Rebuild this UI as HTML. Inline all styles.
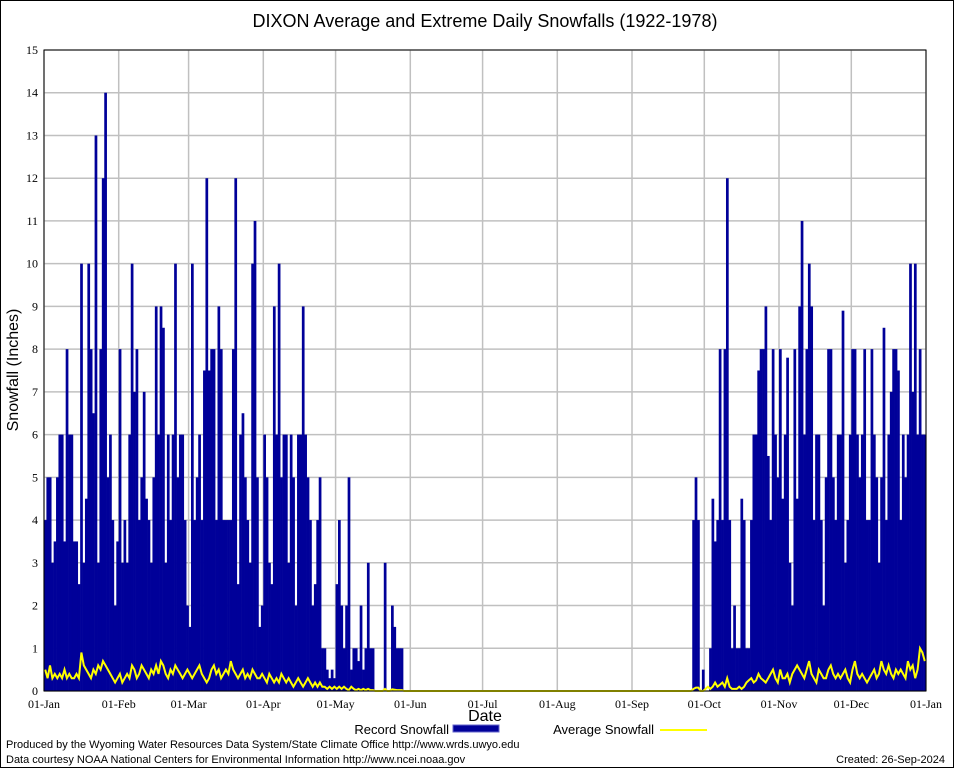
<!DOCTYPE html>
<html><head><meta charset="utf-8"><style>
body{margin:0;background:#fff}
svg{display:block;font-family:"Liberation Sans",sans-serif}
</style></head><body>
<svg id="chart" width="954" height="768" viewBox="0 0 954 768" xmlns="http://www.w3.org/2000/svg">
<rect x="0.5" y="0.5" width="953" height="767" fill="#fff" stroke="#000"/>
<text x="485" y="27" font-size="18" text-anchor="middle">DIXON Average and Extreme Daily Snowfalls (1922-1978)</text>
<g id="grid"></g>
<g id="bars"></g>
<g id="avg"></g>
<rect x="44" y="50" width="882" height="641" fill="none" stroke="#000"/>
<g id="axes" font-family="Liberation Serif, serif" font-size="12"></g>
<text transform="translate(18,370) rotate(-90)" font-size="16" text-anchor="middle">Snowfall (Inches)</text>
<text x="485" y="721" font-size="16" text-anchor="middle">Date</text>
<g>
<text x="449" y="734" font-size="13" text-anchor="end">Record Snowfall</text>
<rect x="453" y="725" width="46" height="7" fill="#000099" stroke="#6666cc"/>
<text x="654" y="734" font-size="13" text-anchor="end">Average Snowfall</text>
<line x1="660" y1="730" x2="707" y2="730" stroke="#ffff00" stroke-width="2"/>
</g>
<text x="6" y="748" font-size="11">Produced by the Wyoming Water Resources Data System/State Climate Office http://www.wrds.uwyo.edu</text>
<text x="6" y="763" font-size="11">Data courtesy NOAA National Centers for Environmental Information http://www.ncei.noaa.gov</text>
<text x="945" y="763" font-size="11" text-anchor="end">Created: 26-Sep-2024</text>
</svg>
<script>
const monthLabels=["01-Jan","01-Feb","01-Mar","01-Apr","01-May","01-Jun","01-Jul","01-Aug","01-Sep","01-Oct","01-Nov","01-Dec","01-Jan"];
const monthStarts=[0,31,60,91,121,152,182,213,244,274,305,335,366];
const yTicks=[0,1,2,3,4,5,6,7,8,9,10,11,12,13,14,15];
const recJan=[4,5,5,3,3.5,5,6,6,3.5,8,6,6,3.5,3.5,2.5,10,3,4.5,10,8,6.5,13,3,8,12,14,5,6,4,2,3.5];
const recFeb=[8,3,4,3,6,10,7,8,4,5,7,4.5,4,3,5,9,6,9,8.5,3,6,4,6,10,5,6,6,4,2];
const recMar=[1.5,10,4,5,6,4,7.5,12,7.5,8,8,4,9,8,4,4,4,4,8,12,2.5,6,6.5,5,4,3,10,11,5,1.5,2];
const recApr=[6,5,3,2.5,9,6,10,5,6,6,3,6,5,2,6,6,9,6,5,4,2,2.5,4,5,1,1,0.5,0.3,0.5,0.3];
const recMay=[2.5,4,2,1,2,5,0.5,1,1,0.7,2,0.5,1,3,1,1,0,0,0,0,3,0,0,2,1.5,1,1,1,0,0,0];
const recJun=new Array(30).fill(0);
const recJul=new Array(31).fill(0);
const recAug=new Array(31).fill(0);
const recSep=[0,0,0,0,0,0,0,0,0,0,0,0,0,0,0,0,0,0,0,0,0,0,0,0,0,4,5,4,0,0.5];
const recOct=[0,0,1,4.5,3.5,4,8,4,8,12,4,1,2,1,1,4.5,4,1,1,4,6,6,7.5,8,8,9,5.5,4,8,6,5];
const recNov=[8,4.5,6,7.8,3,2,8,4.5,9,11,6,8,10,9,4,6,6,4,2,5,8,8,5,4,6,6,8.9,3,4,6];
const recDec=[8,8,6,5,6,8,4,4,8,6,5,3,5,8.5,4,6,7,8,8,7.5,4,6,5,6,10,7,10,6,8,6,6];
const avgJan=[.5,.3,.6,.3,.4,.3,.4,.3,.5,.3,.4,.3,.3,.4,.3,.9,.6,.5,.4,.3,.5,.4,.6,.5,.7,.6,.5,.4,.3,.2,.3];
const avgFeb=[.4,.2,.3,.4,.3,.6,.5,.3,.4,.6,.5,.4,.3,.5,.4,.6,.4,.7,.6,.4,.3,.5,.4,.6,.5,.4,.3,.4,.5];
const avgMar=[.4,.3,.4,.5,.6,.4,.3,.2,.3,.5,.6,.4,.5,.3,.4,.5,.4,.7,.5,.4,.3,.4,.5,.3,.4,.3,.5,.4,.3,.3,.4];
const avgApr=[.3,.2,.4,.3,.2,.3,.2,.4,.3,.2,.3,.2,.1,.2,.3,.2,.1,.2,.3,.2,.1,.2,.1,.2,.1,.1,.05,.1,.05,.1];
const avgMay=[.05,.1,.05,.1,.05,.02,.1,.05,.02,.05,.02,.05,.02,.05,.02,.02,0,0,0,0,.05,0,0,.04,.03,.02,.02,.02,0,0,0];
const avgJun=new Array(30).fill(0);
const avgJul=new Array(31).fill(0);
const avgAug=new Array(31).fill(0);
const avgSep=[0,0,0,0,0,0,0,0,0,0,0,0,0,0,0,0,0,0,0,0,0,0,0,0,0,.05,.08,.08,0,0];
const avgOct=[.05,.1,.05,.1,.2,.1,.15,.2,.1,.3,.1,.05,.05,.05,.1,.05,.1,.2,.25,.3,.2,.25,.4,.3,.25,.2,.3,.4,.5,.3,.2];
const avgNov=[.5,.3,.3,.4,.2,.4,.5,.6,.5,.4,.3,.5,.7,.4,.3,.2,.5,.4,.3,.3,.5,.6,.4,.3,.4,.3,.4,.5,.3,.2];
const avgDec=[.5,.7,.4,.3,.4,.3,.2,.3,.4,.5,.3,.4,.7,.5,.4,.6,.4,.3,.5,.4,.5,.4,.3,.7,.5,.6,.3,.5,1.0,.9,.7];

const records=[].concat(recJan,recFeb,recMar,recApr,recMay,recJun,recJul,recAug,recSep,recOct,recNov,recDec);
const averages=[].concat(avgJan,avgFeb,avgMar,avgApr,avgMay,avgJun,avgJul,avgAug,avgSep,avgOct,avgNov,avgDec);
const NS="http://www.w3.org/2000/svg";
const X0=44,X1=926,Y0=691,Y1=50,DAYS=366,YMAX=15;
const xS=d=>X0+d*(X1-X0)/DAYS;
const yS=v=>Y0-v*(Y0-Y1)/YMAX;
function mk(tag,attrs,parent){const e=document.createElementNS(NS,tag);for(const k in attrs)e.setAttribute(k,attrs[k]);parent.appendChild(e);return e;}
const grid=document.getElementById('grid'),axes=document.getElementById('axes');
yTicks.forEach(t=>{
  const y=yS(t);
  const gl=mk('line',{x1:X0,x2:X1,y1:y,y2:y,stroke:'#c0c0c0','stroke-width':1.5},grid);
  
  
  const tl=mk('text',{x:X0-6,y:y+4,'text-anchor':'end'},axes);
  tl.textContent=t;
  
  
});
monthStarts.forEach((d,i)=>{
  const x=xS(d);
  const gl=mk('line',{x1:x,x2:x,y1:Y1,y2:Y0,stroke:'#c0c0c0','stroke-width':1.5},grid);
  
  
  const tl=mk('text',{x:x,y:708,'text-anchor':'middle'},axes);
  tl.textContent=monthLabels[i];
  
  
});
const bars=document.getElementById('bars');
const bw=(X1-X0)/DAYS;
records.forEach((v,i)=>{
  if(v<=0)return;
  const r=mk('rect',{x:xS(i),y:yS(v),width:bw+0.3,height:Y0-yS(v),fill:'#000099'},bars);
  
  
});
const pts=averages.map((v,i)=>xS(i+0.5).toFixed(1)+','+yS(v).toFixed(1)).join(' ');
const pl=mk('polyline',{points:pts,fill:'none',stroke:'#ffff00','stroke-width':2},document.getElementById('avg'));


</script>
</body></html>
